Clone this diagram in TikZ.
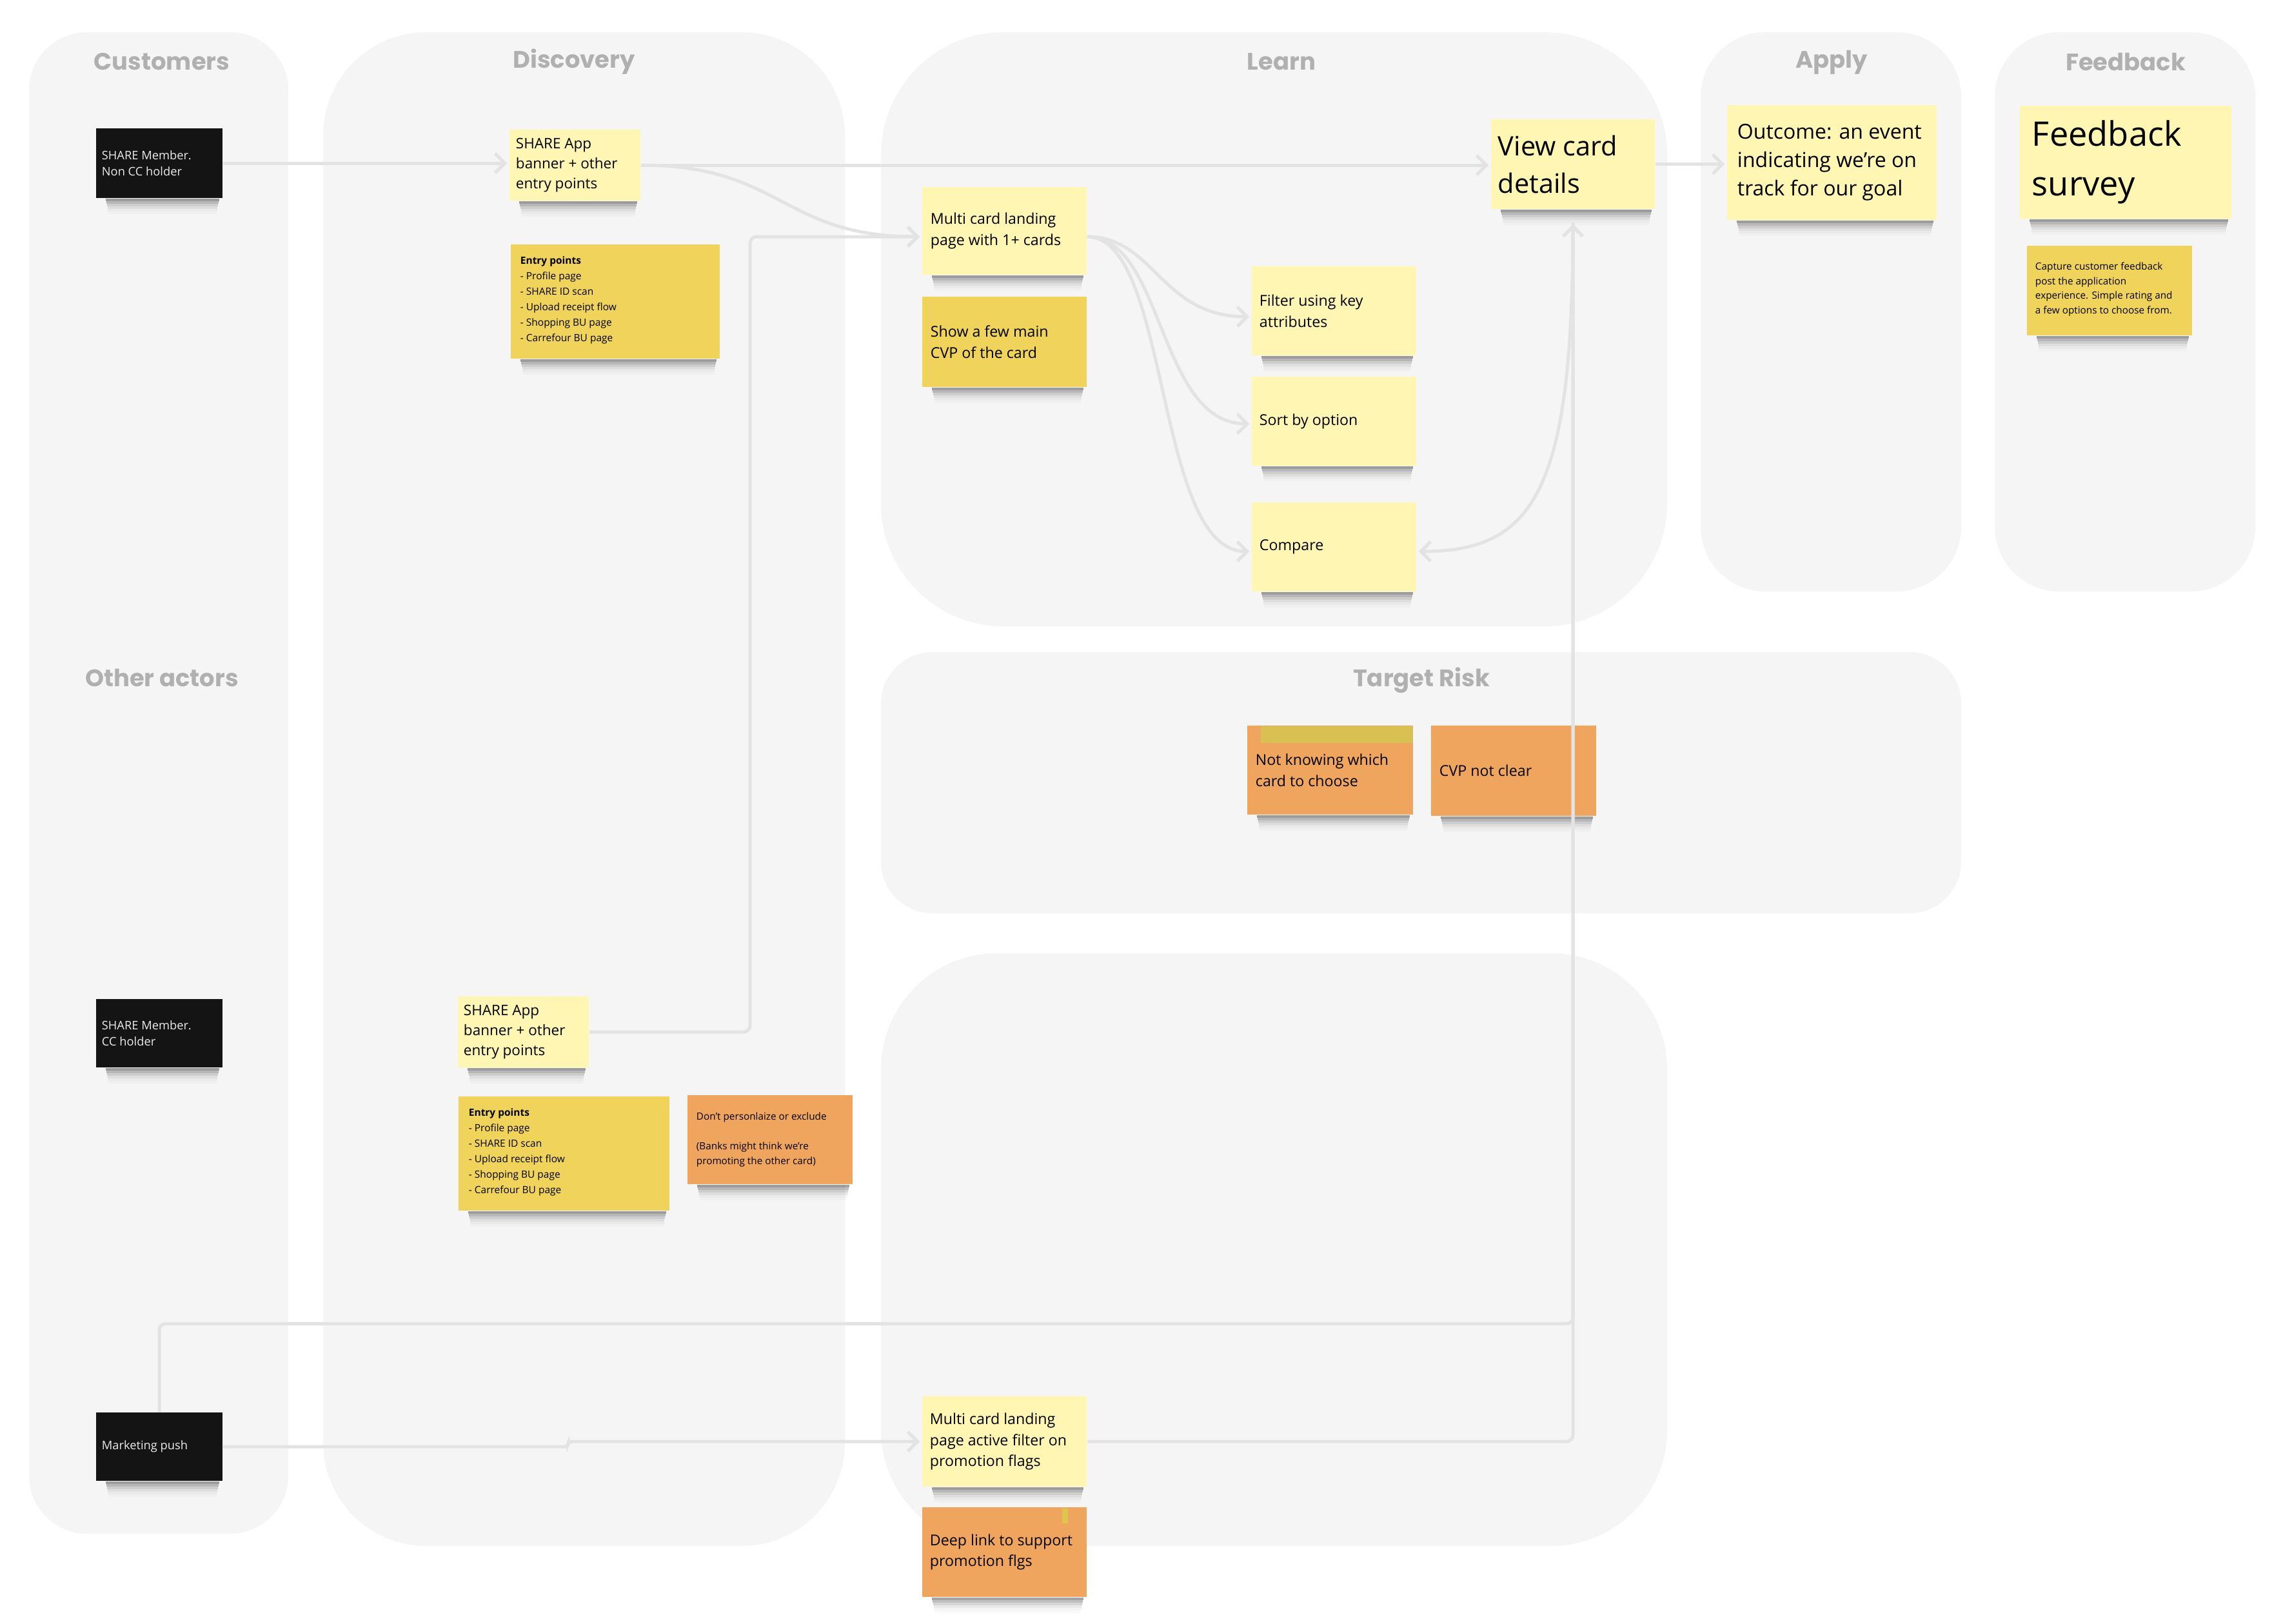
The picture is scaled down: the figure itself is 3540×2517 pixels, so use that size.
\documentclass[tikz,border=0pt]{standalone}
\usepackage{fontspec}
\setmainfont{Open Sans}
\newfontfamily\titlefont{Poppins}
\usetikzlibrary{arrows.meta,calc}
\definecolor{lanebg}{HTML}{F5F5F5}
\definecolor{titlegray}{HTML}{B0B0B0}
\definecolor{ylight}{HTML}{FFF6B4}
\definecolor{ydark}{HTML}{EFD35B}
\definecolor{orng}{HTML}{F0A55F}
\definecolor{blk}{HTML}{141414}
\definecolor{conncol}{HTML}{E3E3E3}
\definecolor{olive}{HTML}{D8C152}
\newcommand\fNote{\fontsize{6.6}{9.3}\selectfont}
\newcommand\fNoteS{\fontsize{6.4}{8.7}\selectfont}
\newcommand\fView{\fontsize{11.8}{16.5}\selectfont}
\newcommand\fOut{\fontsize{9.1}{12.5}\selectfont}
\newcommand\fSurvey{\fontsize{14.9}{21.9}\selectfont}
\newcommand\fTiny{\fontsize{4.35}{6.5}\selectfont}
\newcommand\fEntry{\fontsize{4.4}{6.8}\selectfont}
\newcommand\fBlk{\fontsize{5.2}{7.1}\selectfont}
\pgfdeclarelayer{bg}
\pgfdeclarelayer{shd}
\pgfsetlayers{bg,shd,main}
\newcommand\noteshadow[1]{%
  \begin{pgfonlayer}{shd}
    \foreach \k/\o in {0/0.36,1/0.25,2/0.16,3/0.09,4/0.045,5/0.02}{
      \fill[black, opacity=\o]
        ([xshift=0.16cm+\k*0.008cm,yshift=-\k*0.04cm]#1.south west) rectangle
        ([xshift=-0.06cm-\k*0.008cm,yshift=-\k*0.04cm-0.04cm]#1.south east);}
  \end{pgfonlayer}}
\begin{document}
\begin{tikzpicture}[x=0.01cm,y=-0.01cm,
  lane/.style={fill=lanebg},
  lanetitle/.style={text=titlegray, font=\titlefont\bfseries\fontsize{10.5}{12}\selectfont},
  sticky/.style={rectangle, inner sep=0pt, draw=none},
  txt/.style={anchor=west, align=left, inner sep=0pt, text=black},
  wtxt/.style={anchor=west, align=left, inner sep=0pt, text=white!92!black, font=\fBlk},
  conn/.style={draw=conncol, line width=0.05cm, -{Straight Barb[length=0.15cm,width=0.3cm]}, shorten >=0.03cm}
]
\useasboundingbox (0,0) rectangle (3540,2517);
\begin{pgfonlayer}{bg}
\fill[white] (0,0) rectangle (3540,2517);
% lanes
\fill[lane, rounded corners=0.9cm] (45,50) rectangle (447,2378);
\fill[lane, rounded corners=1.6cm] (501,50) rectangle (1310,2397);
\fill[lane, rounded corners=1.9cm] (1366,50) rectangle (2585,971);
\fill[lane, rounded corners=1.0cm] (2637,50) rectangle (3041,917);
\fill[lane, rounded corners=1.0cm] (3093,50) rectangle (3497,917);
\fill[lane, rounded corners=0.8cm] (1366,1011) rectangle (3041,1416);
\fill[lane, rounded corners=1.8cm] (1366,1478) rectangle (2585,2397);
\end{pgfonlayer}

% titles
\node[lanetitle] (t1) at (251,96) {Customers};
\node[lanetitle] (t2) at (890,96) {Discovery};
\node[lanetitle] (t3) at (1987,96) {Learn};
\node[lanetitle] (t4) at (2840,97) {Apply};
\node[lanetitle] (t5) at (3296,96) {Feedback};
\node[lanetitle] (t6) at (251,1051) {Other actors};
\node[lanetitle] (t7) at (2204,1055) {Target Risk};

% sticky notes
\node[sticky, fill=blk, minimum width=1.96cm, minimum height=1.08cm] (n1) at (247,253) {};
\node[wtxt] (n1t) at ([xshift=0.09cm]n1.west) {SHARE Member.\\Non CC holder};

\node[sticky, fill=ylight, minimum width=2.03cm, minimum height=1.10cm] (n2) at (891.5,256) {};
\node[txt, font=\fNoteS] (n2t) at ([xshift=0.10cm]n2.west) {SHARE App\\banner + other\\entry points};

\node[sticky, fill=ydark, minimum width=3.24cm, minimum height=1.77cm] (n3) at (954,467.5) {};
\node[txt, font=\fEntry] (n3t) at ([xshift=0.15cm,yshift=0.02cm]n3.west) {\textbf{Entry points}\\- Profile page\\- SHARE ID scan\\- Upload receipt flow\\- Shopping BU page\\- Carrefour BU page};

\node[sticky, fill=ylight, minimum width=2.55cm, minimum height=1.36cm] (n4) at (1557.5,358) {};
\node[txt, font=\fNote] (n4t) at ([xshift=0.13cm]n4.west) {Multi card landing\\page with 1+ cards};

\node[sticky, fill=ydark, minimum width=2.55cm, minimum height=1.40cm] (n5) at (1557.5,530) {};
\node[txt, font=\fNote] (n5t) at ([xshift=0.13cm]n5.west) {Show a few main\\CVP of the card};

\node[sticky, fill=ylight, minimum width=2.54cm, minimum height=1.39cm] (n6) at (2439,254.5) {};
\node[txt, font=\fView] (n6t) at ([xshift=0.11cm]n6.west) {View card\\details};

\node[sticky, fill=ylight, minimum width=2.55cm, minimum height=1.38cm] (n7) at (2068.5,482) {};
\node[txt, font=\fNote] (n7t) at ([xshift=0.12cm]n7.west) {Filter using key\\attributes};

\node[sticky, fill=ylight, minimum width=2.55cm, minimum height=1.38cm] (n8) at (2068.5,653) {};
\node[txt, font=\fNote] (n8t) at ([xshift=0.12cm]n8.west) {Sort by option};

\node[sticky, fill=ylight, minimum width=2.55cm, minimum height=1.38cm] (n9) at (2068.5,848) {};
\node[txt, font=\fNote] (n9t) at ([xshift=0.12cm]n9.west) {Compare};

\node[sticky, fill=ylight, minimum width=3.25cm, minimum height=1.78cm] (n10) at (2840.5,252) {};
\node[txt, font=\fOut] (n10t) at ([xshift=0.16cm]n10.west) {Outcome: an event\\indicating we're on\\track for our goal};

\node[sticky, fill=ylight, minimum width=3.28cm, minimum height=1.75cm] (n11) at (3296,251.5) {};
\node[txt, font=\fSurvey] (n11t) at ([xshift=0.19cm]n11.west) {Feedback\\survey};

\node[sticky, fill=ydark, minimum width=2.56cm, minimum height=1.39cm] (n12) at (3271,450.5) {};
\node[txt, font=\fTiny] (n12t) at ([xshift=0.13cm,yshift=0.02cm]n12.west) {Capture customer feedback\\post the application\\experience. Simple rating and\\a few options to choose from.};

\node[sticky, fill=orng, minimum width=2.57cm, minimum height=1.38cm] (n13) at (2062.5,1194) {};
\node[txt, font=\fNote] (n13t) at ([xshift=0.13cm]n13.west) {Not knowing which\\card to choose};

\node[sticky, fill=orng, minimum width=2.56cm, minimum height=1.40cm] (n14) at (2347,1195) {};
\node[txt, font=\fNote] (n14t) at ([xshift=0.13cm]n14.west) {CVP not clear};

\node[sticky, fill=blk, minimum width=1.96cm, minimum height=1.06cm] (n15) at (247,1602) {};
\node[wtxt] (n15t) at ([xshift=0.09cm]n15.west) {SHARE Member.\\CC holder};

\node[sticky, fill=ylight, minimum width=2.03cm, minimum height=1.10cm] (n16) at (811.5,1600) {};
\node[txt, font=\fNoteS] (n16t) at ([xshift=0.09cm]n16.west) {SHARE App\\banner + other\\entry points};

\node[sticky, fill=ydark, minimum width=3.27cm, minimum height=1.77cm] (n17) at (874.5,1788.5) {};
\node[txt, font=\fEntry] (n17t) at ([xshift=0.16cm,yshift=0.02cm]n17.west) {\textbf{Entry points}\\- Profile page\\- SHARE ID scan\\- Upload receipt flow\\- Shopping BU page\\- Carrefour BU page};

\node[sticky, fill=orng, minimum width=2.56cm, minimum height=1.38cm] (n18) at (1194,1767) {};
\node[txt, font=\fTiny] (n18t) at ([xshift=0.14cm]n18.west) {Don't personlaize or exclude\\[6.5pt](Banks might think we're\\promoting the other card)};

\node[sticky, fill=ylight, minimum width=2.55cm, minimum height=1.40cm] (n19) at (1557.5,2235) {};
\node[txt, font=\fNote] (n19t) at ([xshift=0.12cm]n19.west) {Multi card landing\\page active filter on\\promotion flags};

\node[sticky, fill=orng, minimum width=2.55cm, minimum height=1.39cm] (n20) at (1557.5,2406.5) {};
\node[txt, font=\fNote] (n20t) at ([xshift=0.12cm]n20.west) {Deep link to support\\promotion flgs};

\node[sticky, fill=blk, minimum width=1.96cm, minimum height=1.06cm] (n21) at (247,2243) {};
\node[wtxt] (n21t) at ([xshift=0.09cm]n21.west) {Marketing push};

% shadows under the notes
\foreach \nn in {n1,n2,n3,n4,n5,n6,n7,n8,n9,n10,n11,n12,n13,n14,n15,n16,n17,n18,n19,n20,n21}
  {\noteshadow{\nn}}

% small colour marks on notes
\fill[olive] (1955,1126) rectangle (2191,1152);
\fill[olive!90!yellow] (1647,2339) rectangle (1656,2362);

% connector end points
\coordinate (n4in) at ([yshift=-0.09cm]n4.west);
\coordinate (n4out) at ([yshift=-0.09cm]n4.east);
\coordinate (n7in) at ([yshift=-0.09cm]n7.west);
\coordinate (n8in) at ([yshift=-0.04cm]n8.west);
\coordinate (n9in) at ([yshift=-0.07cm]n9.west);
\coordinate (n9rin) at ([yshift=-0.07cm]n9.east);
\coordinate (viewin) at ([yshift=-0.2cm]n6.south);

% connectors
\draw[conn] (n1.east) -- (n1.east -| n2.west);
\draw[conn] (n2.east) -- (n2.east -| n6.west);
\draw[conn] (n2.east) .. controls (1212,256) and (1212,367) .. (n4in);
\draw[conn, rounded corners=0.1cm] (n16.east) -- (1163,1600) |- (n4in);
\draw[conn] (n4out) .. controls (1790,367) and (1800,491) .. (n7in);
\draw[conn] (n4out) .. controls (1805,367) and (1795,657) .. (n8in);
\draw[conn] (n4out) .. controls (1815,367) and (1790,855) .. (n9in);
\draw[conn] (viewin) .. controls (2439,760) and (2380,855) .. (n9rin);
\draw[conn] (n6.east) -- (n6.east -| n10.west);
\draw[conn, rounded corners=0.1cm] (n21.north) -- ++(0,-137) -| (viewin);
\draw[conn, rounded corners=0.05cm] (n21.east) -- ++(535,0) |- (n19.west);
\draw[conn, rounded corners=0.1cm] (n19.east) -| (viewin);
\end{tikzpicture}
\end{document}
